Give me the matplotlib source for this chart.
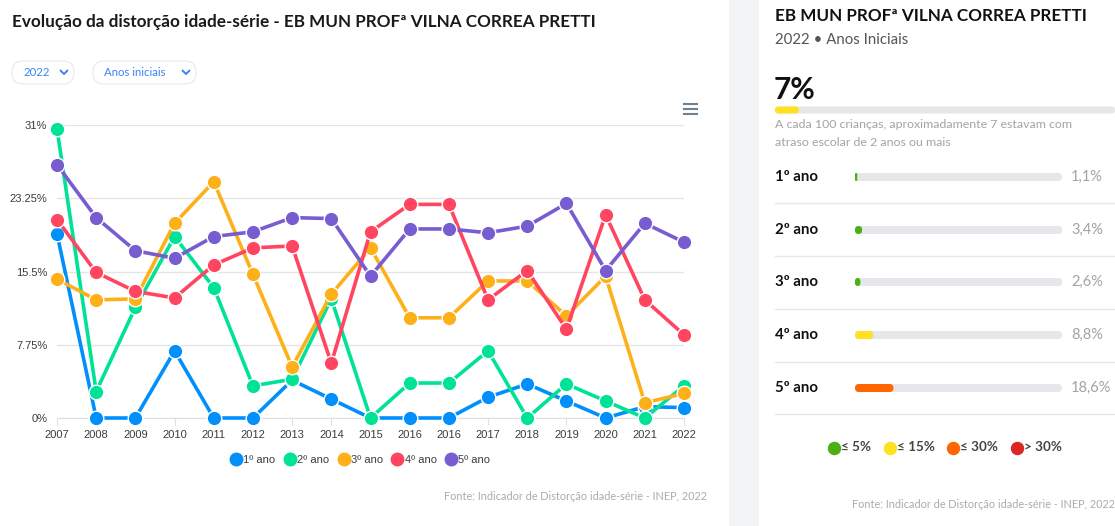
import matplotlib
matplotlib.use("Agg")
import matplotlib.pyplot as plt
from matplotlib.patches import FancyBboxPatch, Rectangle
from matplotlib.lines import Line2D

# ---------------- data ----------------
years = ["2007", "2008", "2009", "2010", "2011", "2012", "2013", "2014", "2015",
         "2016", "2016", "2017", "2018", "2019", "2020", "2021", "2022"]
series_names = ["1º ano", "2º ano", "3º ano", "4º ano", "5º ano"]
ano1 = [19.5, 0, 0, 7.1, 0, 0, 4.0, 2.0, 0, 0, 0, 2.2, 3.6, 1.8, 0, 1.2, 1.1]
ano2 = [30.6, 2.8, 11.7, 19.2, 13.8, 3.4, 4.1, 12.6, 0, 3.7, 3.7, 7.1, 0, 3.6, 1.8, 0, 3.4]
ano3 = [14.7, 12.5, 12.6, 20.6, 25.0, 15.2, 5.4, 13.1, 18.0, 10.6, 10.6, 14.5, 14.5, 10.8, 15.0, 1.6, 2.6]
ano4 = [21.0, 15.4, 13.4, 12.7, 16.2, 18.0, 18.2, 5.8, 19.7, 22.6, 22.6, 12.5, 15.6, 9.4, 21.5, 12.5, 8.8]
ano5 = [26.8, 21.2, 17.7, 16.9, 19.2, 19.7, 21.2, 21.1, 15.0, 20.0, 20.0, 19.6, 20.3, 22.7, 15.6, 20.6, 18.6]
ytick_vals = [0, 7.75, 15.5, 23.25, 31]
ytick_labels = ["0%", "7.75%", "15.5%", "23.25%", "31%"]

total_2022 = 7
row_labels = ["1º ano", "2º ano", "3º ano", "4º ano", "5º ano"]
row_values = [1.1, 3.4, 2.6, 8.8, 18.6]
row_value_text = ["1,1%", "3,4%", "2,6%", "8,8%", "18,6%"]
legend_labels = ["≤ 5%", "≤ 15%", "≤ 30%", "> 30%"]
legend_thresholds = [5, 15, 30, 100]

# ---------------- style ----------------
line_colors = ["#008FFB", "#00E396", "#FEB019", "#FF4560", "#775DD0"]
band_colors = ["#4CAF14", "#FFE11F", "#FF6600", "#DC2626"]
W, H = 1115, 526
TITLE_FONT = ["Lato", "DejaVu Sans"]
CHART_FONT = ["Liberation Sans", "DejaVu Sans"]


def band_color(v):
    for t, c in zip(legend_thresholds, band_colors):
        if v <= t:
            return c
    return band_colors[-1]


fig = plt.figure(figsize=(W / 100, H / 100), dpi=100)
fig.patch.set_facecolor("white")

# background axes in pixel coordinates (decoration only)
bg = fig.add_axes([0, 0, 1, 1], zorder=0)
bg.set_xlim(0, W)
bg.set_ylim(H, 0)
bg.axis("off")
bg.add_patch(Rectangle((729, 0), 30, H, facecolor="#F3F4F6", edgecolor="none"))

# ---------------- left panel ----------------
bg.text(12, 22, "Evolução da distorção idade-série - EB MUN PROFª VILNA CORREA PRETTI",
        fontsize=12.3, fontweight="bold", family=TITLE_FONT, color="#1a1a1a", va="center", ha="left")

# dropdowns
for (x0, x1, label) in [(12, 74, "2022"), (93, 196, "Anos iniciais")]:
    bg.add_patch(FancyBboxPatch((x0, 61), x1 - x0, 23, boxstyle="round,pad=0,rounding_size=11",
                                facecolor="white", edgecolor="#E6E8EC", lw=0.8))
    bg.text(x0 + 11, 72.5, label, fontsize=8.2, family=TITLE_FONT, color="#3B82F6", va="center")
    cx = x1 - 10
    bg.plot([cx - 3.5, cx, cx + 3.5], [70.5, 74, 70.5], color="#3B82F6", lw=1.4,
            solid_capstyle="round", solid_joinstyle="round")

# hamburger icon
for yy in [104, 109, 114]:
    bg.plot([684, 697], [yy, yy], color="#6E8192", lw=1.5)

# main line chart
ax = fig.add_axes([57 / W, (H - 418) / H, (684 - 57) / W, (418 - 125) / H], zorder=2)
x = list(range(len(years)))
all_series = [ano1, ano2, ano3, ano4, ano5]
for i, (vals, c) in enumerate(zip(all_series, line_colors)):
    ax.plot(x, vals, color=c, lw=2.6, zorder=3 + i, clip_on=False,
            marker="o", ms=10.5, mfc=c, mec="white", mew=1.0, solid_joinstyle="round")
ax.set_xlim(0, len(years) - 1)
ax.set_ylim(0, 31)
ax.set_yticks(ytick_vals)
ax.set_yticklabels(ytick_labels)
ax.set_xticks(x)
ax.set_xticklabels(years)
ax.grid(axis="y", color="#E5E5E5", lw=1)
ax.set_axisbelow(True)
for s in ["top", "right", "left"]:
    ax.spines[s].set_visible(False)
ax.spines["bottom"].set_color("#E0E0E0")
ax.tick_params(axis="y", length=0, pad=7, labelsize=8, labelcolor="#373D3F")
ax.tick_params(axis="x", length=5, color="#E0E0E0", pad=4, labelsize=8, labelcolor="#373D3F")
for lab in ax.get_xticklabels() + ax.get_yticklabels():
    lab.set_family(CHART_FONT)
ax.set_facecolor("none")

handles = [Line2D([], [], marker="o", ls="none", ms=9, mfc=c, mec=c) for c in line_colors]
fig.legend(handles, series_names, loc="center", bbox_to_anchor=(360 / W, 1 - 460 / H), ncol=5,
           frameon=False, handletextpad=0.1, columnspacing=0.75, handlelength=1.1,
           prop={"family": CHART_FONT, "size": 8}, labelcolor="#373D3F")

bg.text(707, 497, "Fonte: Indicador de Distorção idade-série - INEP, 2022", fontsize=7.8,
        family=TITLE_FONT, color="#ABABAB", ha="right", va="center")

# ---------------- right panel ----------------
RX = 775
bg.text(RX, 16, "EB MUN PROFª VILNA CORREA PRETTI", fontsize=12.3, fontweight="bold",
        family=TITLE_FONT, color="#111111", va="center")
bg.text(RX, 40, "2022 • Anos Iniciais", fontsize=10.8, family=TITLE_FONT, color="#555555", va="center")
bg.text(RX - 1, 90, f"{total_2022}%", fontsize=21.5, fontweight="bold", family=TITLE_FONT,
        color="#111111", va="center")


def rounded_bar(x0_px, x1_px, yc_px, h_px, value, color):
    """Axes with 0-100 scale; track and value bar drawn as rounded boxes."""
    wpx = x1_px - x0_px
    ppu = wpx / 100.0
    hu = h_px / ppu
    a = fig.add_axes([x0_px / W, (H - yc_px - h_px) / H, wpx / W, 2 * h_px / H], zorder=3)
    a.set_xlim(0, 100)
    a.set_ylim(-hu, hu)
    a.axis("off")
    a.add_patch(FancyBboxPatch((0, -hu / 2), 100, hu, boxstyle=f"round,pad=0,rounding_size={hu / 2}",
                               facecolor="#E5E7EB", edgecolor="none", mutation_aspect=1))
    r = min(hu / 2, value / 2)
    a.add_patch(FancyBboxPatch((0, -hu / 2), value, hu, boxstyle=f"round,pad=0,rounding_size={r}",
                               facecolor=color, edgecolor="none", mutation_aspect=1))
    return a


rounded_bar(RX, 1115, 110, 7, total_2022, band_color(total_2022))

bg.text(RX, 124, "A cada 100 crianças, aproximadamente 7 estavam com", fontsize=8.9,
        family=TITLE_FONT, color="#A3A3A3", va="center")
bg.text(RX, 142, "atraso escolar de 2 anos ou mais", fontsize=8.9,
        family=TITLE_FONT, color="#A3A3A3", va="center")

row_y = [177, 230, 282, 335, 388]
sep_y = [203, 256, 309, 362, 414]
for lab, v, vt, yc in zip(row_labels, row_values, row_value_text, row_y):
    bg.text(RX, yc, lab, fontsize=10.8, fontweight="bold", family=TITLE_FONT, color="#111111", va="center")
    rounded_bar(855, 1062, yc, 8, v, band_color(v))
    bg.text(1071, yc, vt, fontsize=10.5, family=TITLE_FONT, color="#A3A3A3", va="center")
for sy in sep_y:
    bg.plot([RX, W], [sy, sy], color="#E8E8E8", lw=1)

leg_x = [834, 890, 953, 1017]
for lx, lab, c in zip(leg_x, legend_labels, band_colors):
    bg.scatter([lx], [448], s=75, color=c, zorder=3)
    bg.text(lx + 7, 447, lab, fontsize=9.7, fontweight="bold", family=TITLE_FONT, color="#444444", va="center")

bg.text(1115, 504, "Fonte: Indicador de Distorção idade-série - INEP, 2022", fontsize=7.8,
        family=TITLE_FONT, color="#ABABAB", ha="right", va="center")

fig.savefig("out.png", dpi=100, facecolor="white")
